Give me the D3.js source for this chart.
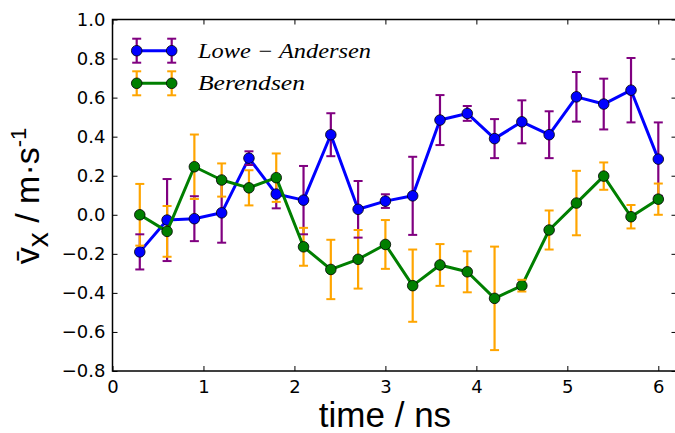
<!DOCTYPE html>
<html>
<head>
<meta charset="utf-8">
<script src="https://cdn.jsdelivr.net/npm/d3@7"></script>
<style>
  body { margin: 0; background: #fff; }
  text { font-family: "DejaVu Sans", sans-serif; }
</style>
</head>
<body>
<svg id="chart" width="675" height="433"></svg>
<script>
// time points (ns)
const timeNs = [0.3, 0.6, 0.9, 1.2, 1.5, 1.8, 2.1, 2.4, 2.7, 3.0,
                3.3, 3.6, 3.9, 4.2, 4.5, 4.8, 5.1, 5.4, 5.7, 6.0];

// Lowe-Andersen thermostat: mean vx and error
const loweMean = [-0.19, -0.027, -0.02, 0.01, 0.29, 0.106, 0.075, 0.41, 0.028, 0.07,
                  0.097, 0.485, 0.519, 0.39, 0.476, 0.41, 0.604, 0.567, 0.638, 0.285];
const loweErr = [0.09, 0.21, 0.115, 0.153, 0.035, 0.073, 0.175, 0.11, 0.145, 0.035,
                 0.2, 0.128, 0.038, 0.1, 0.11, 0.12, 0.127, 0.13, 0.165, 0.188];

// Berendsen thermostat
const berMean = [0.0, -0.085, 0.246, 0.178, 0.138, 0.19, -0.164, -0.28, -0.228, -0.152,
                 -0.363, -0.257, -0.292, -0.428, -0.363, -0.078, 0.06, 0.198, -0.01, 0.08];
const berErr = [0.158, 0.13, 0.165, 0.085, 0.09, 0.124, 0.097, 0.152, 0.15, 0.125,
                0.185, 0.107, 0.105, 0.265, 0.03, 0.1, 0.165, 0.07, 0.06, 0.08];

const xTicks = [0, 1, 2, 3, 4, 5, 6];
const yTicks = [-0.8, -0.6, -0.4, -0.2, 0.0, 0.2, 0.4, 0.6, 0.8, 1.0];

const seriesNames = ["Lowe \u2212 Andersen", "Berendsen"];
const lineColors = ["#0000ff", "#007f00"];
const errColors = ["#800080", "#ffa500"];

const svg = d3.select("#chart");

const x = d3.scaleLinear().domain([0, 6.2]).range([112.5, 676.5]);
const y = d3.scaleLinear().domain([-0.8, 1.0]).range([371, 19.5]);

const series = [
  timeNs.map((t, i) => ({ t, v: loweMean[i], e: loweErr[i] })),
  timeNs.map((t, i) => ({ t, v: berMean[i], e: berErr[i] }))
];

const fmt = d => d3.format(".1f")(d).replace("-", "\u2212");

// axes with inward ticks on all four sides
svg.append("g")
  .attr("transform", `translate(0, ${y(-0.8)})`)
  .call(d3.axisBottom(x).tickValues(xTicks).tickSizeInner(-5).tickSizeOuter(0).tickPadding(9).tickFormat(d3.format("d")))
  .call(g => g.select(".domain").remove())
  .call(g => g.selectAll("text").style("font-size", "18px").attr("fill", "#000"));

svg.append("g")
  .attr("transform", `translate(0, ${y(1.0)})`)
  .call(d3.axisTop(x).tickValues(xTicks).tickSizeInner(-5).tickSizeOuter(0).tickFormat(""))
  .call(g => g.select(".domain").remove());

svg.append("g")
  .attr("transform", `translate(${x(0)}, 0)`)
  .call(d3.axisLeft(y).tickValues(yTicks).tickSizeInner(-5).tickSizeOuter(0).tickPadding(7).tickFormat(fmt))
  .call(g => g.select(".domain").remove())
  .call(g => g.selectAll("text").style("font-size", "18px").attr("fill", "#000"));

svg.append("g")
  .attr("transform", `translate(${x(6.2)}, 0)`)
  .call(d3.axisRight(y).tickValues(yTicks).tickSizeInner(-5).tickSizeOuter(0).tickFormat(""))
  .call(g => g.select(".domain").remove());

// frame
svg.append("rect")
  .attr("x", x(0)).attr("y", y(1.0))
  .attr("width", x(6.2) - x(0)).attr("height", y(-0.8) - y(1.0))
  .attr("fill", "none").attr("stroke", "#000").attr("stroke-width", 1.5);

// error bar verticals (drawn first, as in matplotlib)
series.forEach((s, k) => {
  svg.append("g").selectAll("line")
    .data(s).enter().append("line")
    .attr("x1", d => x(d.t)).attr("x2", d => x(d.t))
    .attr("y1", d => y(d.v + d.e)).attr("y2", d => y(d.v - d.e))
    .attr("stroke", errColors[k]).attr("stroke-width", 2.2);
});

const line = d3.line().x(d => x(d.t)).y(d => y(d.v));

series.forEach((s, k) => {
  svg.append("path")
    .datum(s)
    .attr("d", line)
    .attr("fill", "none")
    .attr("stroke", lineColors[k])
    .attr("stroke-width", 3)
    .attr("stroke-linejoin", "round");

  svg.append("g").selectAll("circle")
    .data(s).enter().append("circle")
    .attr("cx", d => x(d.t)).attr("cy", d => y(d.v))
    .attr("r", 5.3)
    .attr("fill", lineColors[k])
    .attr("stroke", "#000").attr("stroke-width", 0.8);

  // caps
  const caps = svg.append("g");
  [1, -1].forEach(sgn => {
    caps.selectAll(null)
      .data(s).enter().append("line")
      .attr("x1", d => x(d.t) - 4.5).attr("x2", d => x(d.t) + 4.5)
      .attr("y1", d => y(d.v + sgn * d.e)).attr("y2", d => y(d.v + sgn * d.e))
      .attr("stroke", errColors[k]).attr("stroke-width", 2);
  });
});

// legend
const legend = svg.append("g");
seriesNames.forEach((name, k) => {
  const ly = 50.7 + k * 32.6;
  const hx = [136.7, 171.7];
  const row = legend.append("g");
  hx.forEach(px => {
    row.append("line").attr("x1", px).attr("x2", px).attr("y1", ly - 12).attr("y2", ly + 12)
      .attr("stroke", errColors[k]).attr("stroke-width", 2.2);
  });
  row.append("line").attr("x1", hx[0]).attr("x2", hx[1]).attr("y1", ly).attr("y2", ly)
    .attr("stroke", lineColors[k]).attr("stroke-width", 3);
  hx.forEach(px => {
    row.append("circle").attr("cx", px).attr("cy", ly).attr("r", 5.3)
      .attr("fill", lineColors[k]).attr("stroke", "#000").attr("stroke-width", 0.8);
    [-12, 12].forEach(o => {
      row.append("line").attr("x1", px - 4.5).attr("x2", px + 4.5).attr("y1", ly + o).attr("y2", ly + o)
        .attr("stroke", errColors[k]).attr("stroke-width", 2);
    });
  });
  row.append("text")
    .attr("x", 198).attr("y", ly + 7)
    .attr("textLength", k === 0 ? 173 : 107)
    .attr("lengthAdjust", "spacingAndGlyphs")
    .style("font-family", "'Liberation Serif', serif")
    .style("font-style", "italic")
    .style("font-size", "21px")
    .text(name);
});

// axis labels
svg.append("text")
  .attr("x", 385).attr("y", 427)
  .attr("text-anchor", "middle")
  .style("font-family", "'Liberation Sans', Arial, sans-serif")
  .style("font-size", "35px")
  .text("time / ns");

const yl = svg.append("text")
  .attr("transform", "translate(39, 196) rotate(-90)")
  .attr("text-anchor", "middle")
  .style("font-family", "'Liberation Sans', Arial, sans-serif")
  .style("font-size", "34px");
yl.append("tspan").text("v\u0304");
yl.append("tspan").attr("dy", 9).style("font-size", "30px").text("x");
yl.append("tspan").attr("dy", -9).text(" / m\u00b7s");
yl.append("tspan").attr("dy", -13).style("font-size", "22px").text("-1");
</script>
</body>
</html>
